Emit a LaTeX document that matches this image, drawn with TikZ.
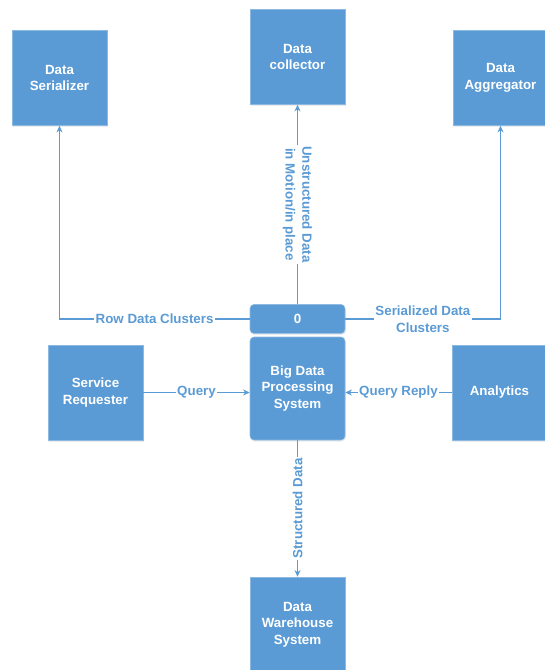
\documentclass[tikz,border=0pt]{standalone}
\usepackage{fontspec}
\setmainfont{Liberation Sans}
\usetikzlibrary{arrows.meta,positioning,shadows}
\definecolor{dfdblau}{RGB}{91,155,213}

\begin{document}
\begin{tikzpicture}[
      x=0.75pt, y=-0.75pt,
      every node/.style={font=\fontsize{10}{12.5}\selectfont\bfseries, align=center},
      entity/.style={fill=dfdblau, draw=dfdblau!70!white, line width=0.4pt, text=white,
        minimum width=71.25pt, minimum height=71.25pt, inner sep=2pt,
        drop shadow={opacity=0.15, shadow xshift=0.6pt, shadow yshift=-1.2pt}},
      procbox/.style={entity, rounded corners=3pt},
      flow/.style={draw=dfdblau, line width=1pt, -{Stealth[length=5pt,width=4.5pt]}},
      flowlbl/.style={fill=white, text=dfdblau, inner sep=1pt}
    ]
  \useasboundingbox (0,0) rectangle (544,670);

  % --- Prozess in der Mitte ---
  \node (bdps) [procbox, minimum height=77.25pt] at (297.5,388.5) {Big Data\\Processing\\System};
  \node (hdr) [procbox, minimum height=21.75pt, above=2.25pt of bdps] {0};

  % --- Externe Einheiten ---
  \node (ser) [entity] at (59.5,78)    {Data\\Serializer};
  \node (col) [entity] at (297.5,57)   {Data\\collector};
  \node (agg) [entity] at (500.5,78)   {Data\\Aggregator};
  \node (req) [entity] at (95.5,392.5) {Service\\Requester};
  \node (ana) [entity] at (499.5,392.5) {Analytics};
  \node (dwh) [entity] at (297.5,624.5) {Data\\Warehouse\\System};

  % Datenfluesse
  \draw[flow] (hdr.west) -| (ser.south) node[flowlbl, pos=0.25] {Row Data Clusters};
  \draw[flow] (hdr.east) -| (agg.south) node[flowlbl, pos=0.25] {Serialized Data\\Clusters};
  \draw[flow] (hdr.north) -- (col.south)
    node[flowlbl, midway, rotate=-90] {Unstructured Data\\in Motion/in place};
  \draw[flow] (req.east) -- (req.east -| bdps.west) node[flowlbl, midway] {Query};
  \draw[flow] (ana.west) -- (ana.west -| bdps.east) node[flowlbl, midway] {Query Reply};
  \draw[flow] (bdps.south) -- (dwh.north) node[flowlbl, midway, rotate=90] {Structured Data};
\end{tikzpicture}
\end{document}
